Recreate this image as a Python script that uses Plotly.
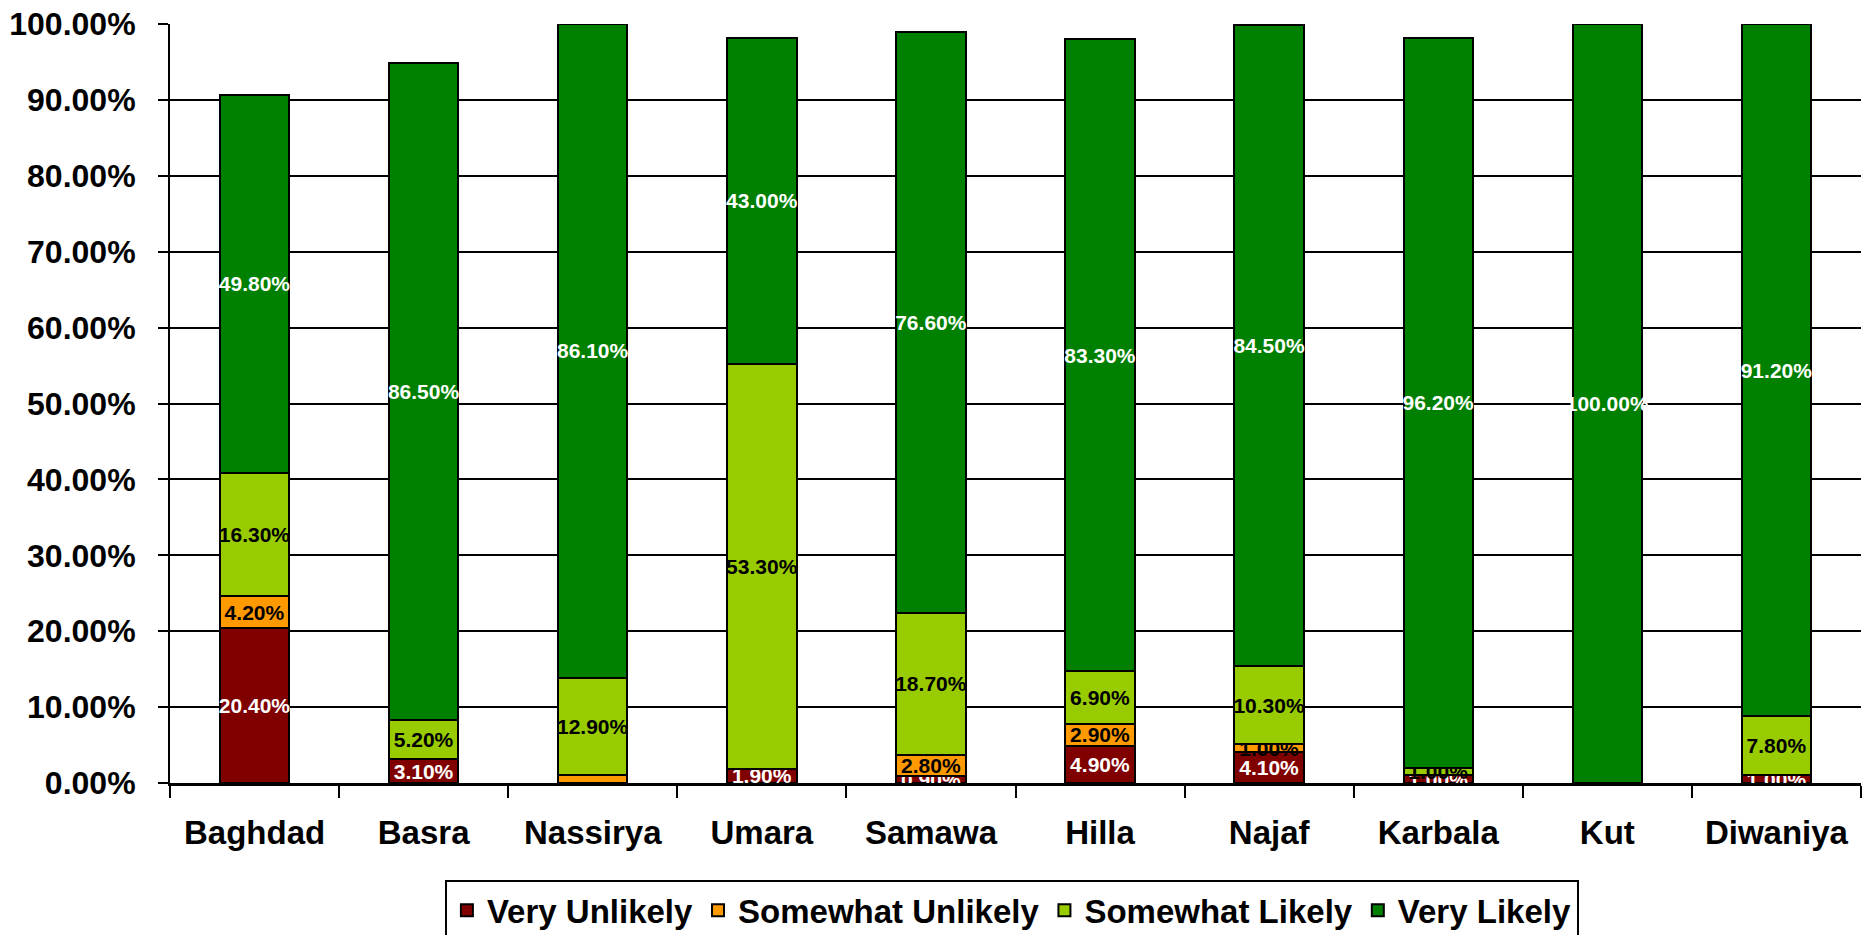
import plotly.graph_objects as go

cities = ["Baghdad", "Basra", "Nassirya", "Umara", "Samawa", "Hilla", "Najaf", "Karbala", "Kut", "Diwaniya"]
very_unlikely = [20.4, 3.1, 0.0, 1.9, 0.9, 4.9, 4.1, 1.0, 0.0, 1.0]
somewhat_unlikely = [4.2, 0.0, 1.0, 0.0, 2.8, 2.9, 1.0, 0.0, 0.0, 0.0]
somewhat_likely = [16.3, 5.2, 12.9, 53.3, 18.7, 6.9, 10.3, 1.0, 0.0, 7.8]
very_likely = [49.8, 86.5, 86.1, 43.0, 76.6, 83.3, 84.5, 96.2, 100.0, 91.2]
y_ticks = [0, 10, 20, 30, 40, 50, 60, 70, 80, 90, 100]
y_tick_labels = [f"{v:.2f}%" for v in y_ticks]

series = [
    ("Very Unlikely", very_unlikely, "#800000", "white"),
    ("Somewhat Unlikely", somewhat_unlikely, "#FF9900", "black"),
    ("Somewhat Likely", somewhat_likely, "#99CC00", "black"),
    ("Very Likely", very_likely, "#008000", "white"),
]

# labels hidden in the original for these (series, city) pairs
hidden = {("Somewhat Unlikely", "Nassirya")}

fig = go.Figure()
for name, vals, color, tcolor in series:
    texts = []
    for c, v in zip(cities, vals):
        if v > 0 and (name, c) not in hidden:
            texts.append(f"{v:.2f}%")
        else:
            texts.append("")
    fig.add_trace(go.Bar(
        name=name, x=cities, y=vals,
        marker=dict(color=color, line=dict(color="black", width=2)),
        text=texts, textposition="inside", insidetextanchor="middle",
        textangle=0,
        textfont=dict(family="Arial, Liberation Sans, sans-serif", size=21, color=tcolor, weight="bold"),
        cliponaxis=False,
    ))

fig.update_layout(
    barmode="stack",
    bargap=0.59,
    width=1867, height=935,
    margin=dict(l=170, r=6, t=24, b=152, autoexpand=False),
    paper_bgcolor="white", plot_bgcolor="white",
    font=dict(family="Arial, Liberation Sans, sans-serif", color="black"),
    uniformtext=dict(minsize=21, mode="show"),
    showlegend=True,
    legend=dict(
        orientation="h", x=0.542, xref="container", xanchor="center",
        y=0.0585, yref="container", yanchor="top",
        bordercolor="black", borderwidth=2,
        font=dict(size=33, weight="bold", color="black"),
        itemsizing="constant", traceorder="normal",
    ),
)

fig.update_yaxes(
    range=[0, 100], tickvals=y_ticks, ticktext=y_tick_labels,
    showgrid=True, gridcolor="black", gridwidth=2,
    showline=True, linecolor="black", linewidth=2,
    ticks="outside", ticklen=10, tickwidth=2, tickcolor="black",
    ticklabelstandoff=16, ticklabeloverflow="allow",
    tickfont=dict(size=32, weight="bold", color="black"),
    zeroline=False, automargin=False,
)
fig.update_xaxes(
    showline=True, linecolor="black", linewidth=3,
    ticks="outside", tickson="boundaries", ticklen=12, tickwidth=2, tickcolor="black",
    ticklabelstandoff=18,
    tickfont=dict(size=33, weight="bold", color="black"),
    showgrid=False, automargin=False,
)

fig.write_html(
    "out.html",
    config={"displayModeBar": False},
    post_script="document.body.style.margin='0';document.body.style.overflow='hidden';",
)
